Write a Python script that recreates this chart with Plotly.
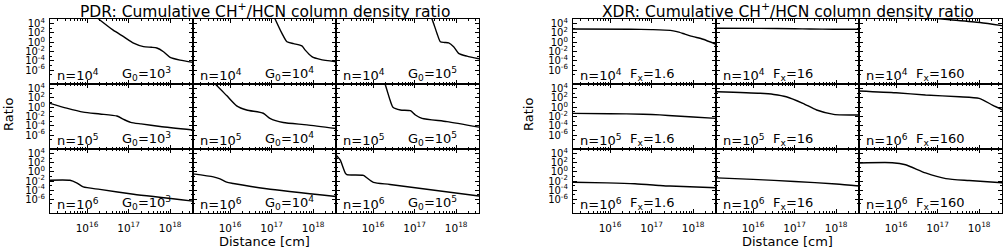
import plotly.graph_objects as go

# ---------------- data (log10 values) ----------------
# PDR panels, row-major: rows n=1e4,1e5,1e6 ; cols G0=1e3,1e4,1e5
pdr_x = [
    [16.1, 16.31, 16.63, 16.88, 17.12, 17.36, 17.55, 17.68, 17.84, 18.0, 18.24, 18.55],
    [17.02, 17.09, 17.25, 17.37, 17.53, 17.73, 17.81, 17.97, 18.17, 18.55],
    [17.36, 17.42, 17.54, 17.62, 17.72, 17.82, 17.94, 18.06, 18.26, 18.55],
    [15.11, 15.51, 15.91, 16.31, 16.72, 16.9, 17.05, 17.3, 17.76, 18.55],
    [15.45, 15.64, 15.92, 16.16, 16.4, 16.8, 16.96, 17.28, 17.85, 18.55],
    [16.22, 16.29, 16.41, 16.48, 16.66, 16.9, 17.02, 17.18, 17.78, 18.55],
    [15.11, 15.59, 15.75, 15.91, 16.31, 17.12, 18.55],
    [15.11, 15.6, 15.76, 15.92, 16.08, 16.88, 18.55],
    [15.11, 15.21, 15.33, 15.37, 15.77, 15.85, 16.01, 16.41, 18.55],
]
pdr_y = [
    [6.3, 4.8, 2.6, 1.2, -0.2, -0.95, -1.1, -1.25, -2.05, -3.25, -3.85, -4.35],
    [6.3, 4.9, 1.9, 0.1, -0.3, -0.8, -1.7, -3.1, -3.7, -4.2],
    [6.2, 5.0, 1.9, 0.1, -0.05, -0.15, -0.97, -2.4, -3.0, -3.55],
    [0.84, -0.2, -1.05, -1.45, -1.9, -2.7, -3.25, -3.6, -4.15, -4.9],
    [6.2, 5.0, 2.5, 0.3, -0.6, -1.3, -2.4, -3.3, -3.8, -4.6],
    [6.5, 5.0, 1.55, 0.0, -0.6, -0.75, -1.68, -2.4, -3.1, -4.3],
    [-1.83, -1.85, -2.4, -3.3, -3.84, -4.9, -6.4],
    [-0.45, -1.1, -1.53, -2.26, -2.54, -3.69, -5.4],
    [3.7, 2.6, -0.2, -0.6, -0.75, -1.3, -2.3, -2.76, -5.28],
]
pdr_n = ["4", "4", "4", "5", "5", "5", "6", "6", "6"]
pdr_g = ["3", "4", "5", "3", "4", "5", "3", "4", "5"]

# XDR panels, row-major
xdr_x = [
    [15.11, 16.5, 17.0, 17.45, 17.61, 17.8, 18.0, 18.24, 18.55],
    [15.13, 16.17, 17.0, 17.38, 17.94, 18.55],
    [16.5, 17.3, 18.02, 18.57],
    [15.11, 16.0, 16.8, 17.2, 17.6, 18.0, 18.55],
    [15.13, 16.17, 16.5, 16.8, 17.2, 17.53, 17.94, 18.55],
    [15.11, 16.0, 16.71, 17.52, 18.0, 18.32, 18.57],
    [15.11, 15.92, 16.6, 17.2, 17.44, 18.55],
    [15.13, 16.0, 17.0, 18.0, 18.55],
    [15.11, 15.91, 16.23, 16.71, 17.2, 17.76, 18.57],
]
xdr_y = [
    [2.85, 2.8, 2.72, 2.55, 2.27, 1.75, 1.2, 0.63, -0.45],
    [3.0, 2.98, 2.9, 2.85, 2.78, 2.8],
    [5.5, 4.85, 4.25, 3.55],
    [-1.32, -1.4, -1.5, -1.65, -1.9, -2.1, -2.4],
    [3.34, 3.0, 2.75, 2.26, 0.84, -0.6, -1.53, -1.68],
    [3.49, 3.1, 2.63, 2.26, 1.9, 0.47, -0.6],
    [-2.26, -2.4, -2.6, -2.97, -3.1, -3.47],
    [-1.32, -1.65, -2.1, -2.65, -3.1],
    [1.95, 2.0, 1.55, -0.24, -1.47, -1.9, -2.4],
]
xdr_n = ["4", "4", "4", "5", "5", "6", "6", "6", "6"]
xdr_f = ["1.6", "16", "160", "1.6", "16", "160", "1.6", "16", "160"]

x_tick_exp = [16, 17, 18]
y_tick_exp = [4, 2, 0, -2, -4, -6]
x_range = [15.11, 18.55]
y_range = [-9, 5]

# ---------------- layout geometry (pixels) ----------------
W, H = 1004, 249
pdr_cols = [50, 193, 336, 479]
xdr_cols = [573, 716, 859, 1002]
rows = [19, 84, 149, 213]
FONT = "DejaVu Sans"

fig = go.Figure()
layout = dict(
    width=W, height=H, margin=dict(l=0, r=0, t=0, b=0, autoexpand=False),
    paper_bgcolor="white", plot_bgcolor="white", showlegend=False,
    font=dict(family=FONT, color="black", size=11),
)
annotations = []

x_minor = [m * 10 ** e for e in range(15, 19) for m in range(2, 10)]
y_minor = [10.0 ** e for e in range(-9, 6, 2)]


def add_panel(idx, cols, c, r, xs, ys, lab1, lab2, lab2_shift):
    k = idx + 1
    xn = "xaxis" if k == 1 else f"xaxis{k}"
    yn = "yaxis" if k == 1 else f"yaxis{k}"
    xr = "x" if k == 1 else f"x{k}"
    yr = "y" if k == 1 else f"y{k}"
    layout[xn] = dict(
        type="log", range=x_range, domain=[cols[c] / W, cols[c + 1] / W],
        anchor=yr, showgrid=False, zeroline=False,
        showline=True, mirror="allticks", linecolor="black", linewidth=1.3,
        ticks="inside", ticklen=4, tickwidth=1, tickcolor="black",
        tickmode="array", tickvals=[10.0 ** e for e in x_tick_exp],
        ticktext=[f"10<sup>{e}</sup>" for e in x_tick_exp],
        showticklabels=(r == 2), tickfont=dict(size=10.5, family=FONT),
        ticklabelstandoff=5,
        minor=dict(ticks="inside", ticklen=2, tickcolor="black",
                   tickmode="array", tickvals=x_minor, showgrid=False),
    )
    layout[yn] = dict(
        type="log", range=y_range,
        domain=[1 - rows[r + 1] / H, 1 - rows[r] / H],
        anchor=xr, showgrid=False, zeroline=False,
        showline=True, mirror="allticks", linecolor="black", linewidth=1.3,
        ticks="inside", ticklen=4, tickwidth=1, tickcolor="black",
        tickmode="array", tickvals=[10.0 ** e for e in y_tick_exp],
        ticktext=[f"10<sup>{e}</sup>" for e in y_tick_exp],
        showticklabels=(c == 0), tickfont=dict(size=10, family=FONT),
        ticklabelstandoff=2,
        minor=dict(ticks="inside", ticklen=2, tickcolor="black",
                   tickmode="array", tickvals=y_minor, showgrid=False),
    )
    fig.add_trace(go.Scatter(
        x=[10.0 ** v for v in xs], y=[10.0 ** v for v in ys],
        mode="lines", line=dict(color="black", width=1.4, shape="spline", smoothing=0.6),
        xaxis=xr, yaxis=yr, hoverinfo="skip",
    ))
    for txt, sh in ((lab1, 5), (lab2, lab2_shift)):
        annotations.append(dict(
            text=txt, xref=f"{xr} domain", yref=f"{yr} domain", x=0, y=0,
            xanchor="left", yanchor="bottom", xshift=sh, yshift=-1,
            showarrow=False, font=dict(size=13, family=FONT),
        ))


for i in range(9):
    r, c = divmod(i, 3)
    add_panel(i, pdr_cols, c, r, pdr_x[i], pdr_y[i],
              f"n=10<sup>{pdr_n[i]}</sup>", f"G<sub>0</sub>=10<sup>{pdr_g[i]}</sup>", 70)
for i in range(9):
    r, c = divmod(i, 3)
    add_panel(9 + i, xdr_cols, c, r, xdr_x[i], xdr_y[i],
              f"n=10<sup>{xdr_n[i]}</sup>", f"F<sub>x</sub>={xdr_f[i]}", 55)

# titles and axis labels
for cols, name in ((pdr_cols, "PDR"), (xdr_cols, "XDR")):
    cx = (cols[0] + cols[3]) / 2 / W
    annotations.append(dict(
        text=f"{name}: Cumulative CH<sup>+</sup>/HCN column density ratio",
        xref="paper", yref="paper", x=cx, y=1 - 10 / H, xanchor="center", yanchor="middle",
        showarrow=False, font=dict(size=15.5, family=FONT)))
    annotations.append(dict(
        text="Distance [cm]", xref="paper", yref="paper",
        x=(cols[1] + cols[2]) / 2 / W, y=1 - 241 / H, xanchor="center", yanchor="middle",
        showarrow=False, font=dict(size=13, family=FONT)))
for px in (9, 529):
    annotations.append(dict(
        text="Ratio", xref="paper", yref="paper", x=px / W, y=1 - 115 / H,
        xanchor="center", yanchor="middle", textangle=-90,
        showarrow=False, font=dict(size=13, family=FONT)))

layout["annotations"] = annotations
fig.update_layout(**layout)
fig.write_html("out.html", config={"displayModeBar": False},
               post_script="document.body.style.margin='0px';")
